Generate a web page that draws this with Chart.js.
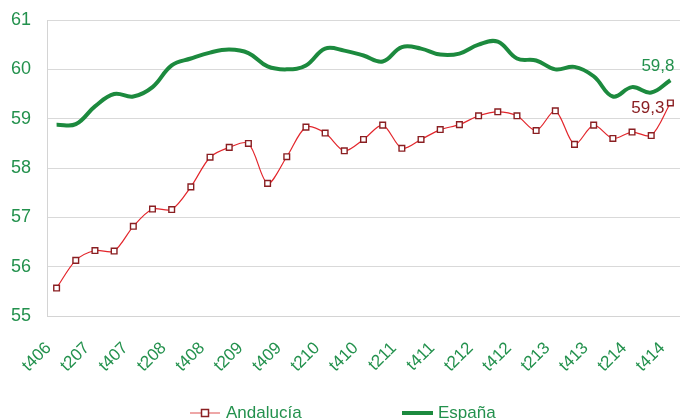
<!DOCTYPE html>
<html>
<head>
<meta charset="utf-8">
<script src="https://cdn.jsdelivr.net/npm/chart.js@4.4.1/dist/chart.umd.min.js"></script>
<style>
    body { margin: 0; background: #fff; }
    #wrap { width: 680px; height: 420px; }
</style>
</head>
<body>
<div id="wrap"><canvas id="empleoChart" width="680" height="420"></canvas></div>
<script>
// trimestres t406 ... t414
const quarters = [
    "t406",
    "t107", "t207", "t307", "t407",
    "t108", "t208", "t308", "t408",
    "t109", "t209", "t309", "t409",
    "t110", "t210", "t310", "t410",
    "t111", "t211", "t311", "t411",
    "t112", "t212", "t312", "t412",
    "t113", "t213", "t313", "t413",
    "t114", "t214", "t314", "t414"
];

const andalucia = [
    55.57,
    56.13, 56.33, 56.32, 56.82,
    57.17, 57.16, 57.62, 58.22,
    58.42, 58.50, 57.69, 58.23,
    58.83, 58.71, 58.35, 58.58,
    58.87, 58.40, 58.58, 58.78,
    58.88, 59.06, 59.14, 59.06,
    58.76, 59.16, 58.48, 58.87,
    58.60, 58.73, 58.66, 59.32
];

const espana = [
    58.88,
    58.89, 59.25, 59.50, 59.45,
    59.64, 60.08, 60.22, 60.34,
    60.40, 60.33, 60.06, 60.00,
    60.08, 60.42, 60.38, 60.28,
    60.16, 60.45, 60.42, 60.30,
    60.32, 60.50, 60.56, 60.22,
    60.18, 60.00, 60.05, 59.86,
    59.45, 59.64, 59.53, 59.78
];

const yTicks = [55, 56, 57, 58, 59, 60, 61];
const endLabels = ["59,3", "59,8"];

const GREEN_TXT = '#23914d';
const FONT = "'Liberation Sans', Arial, sans-serif";

// last value labels
const endLabelPlugin = {
    id: 'endLabels',
    afterDatasetsDraw(chart) {
        const ctx = chart.ctx;
        ctx.save();
        ctx.font = '17px ' + FONT;
        ctx.textBaseline = 'middle';

        const a = chart.getDatasetMeta(0).data;
        const pa = a[a.length - 1];
        ctx.fillStyle = '#8a1f22';
        ctx.textAlign = 'right';
        ctx.fillText(endLabels[0], pa.x - 6, pa.y + 5);

        const e = chart.getDatasetMeta(1).data;
        const pe = e[e.length - 1];
        ctx.fillStyle = GREEN_TXT;
        ctx.textAlign = 'left';
        ctx.fillText(endLabels[1], pe.x - 29, pe.y - 14);
        ctx.restore();
    }
};

// legend at the bottom, Excel style
const legendPlugin = {
    id: 'bottomLegend',
    afterDraw(chart) {
        const ctx = chart.ctx;
        const y = 413;
        ctx.save();
        ctx.font = '17px ' + FONT;
        ctx.textBaseline = 'middle';
        ctx.textAlign = 'left';

        // Andalucía
        ctx.strokeStyle = '#e88a8a';
        ctx.lineWidth = 1.5;
        ctx.beginPath();
        ctx.moveTo(190, y);
        ctx.lineTo(220, y);
        ctx.stroke();
        ctx.fillStyle = '#fff';
        ctx.fillRect(201.5, y - 3.5, 7, 7);
        ctx.strokeStyle = '#8a1f22';
        ctx.strokeRect(201.5, y - 3.5, 7, 7);
        ctx.fillStyle = GREEN_TXT;
        ctx.fillText(chart.data.datasets[0].label, 226, y);

        // España
        ctx.strokeStyle = '#1c8a3e';
        ctx.lineWidth = 4;
        ctx.beginPath();
        ctx.moveTo(402, y);
        ctx.lineTo(433, y);
        ctx.stroke();
        ctx.fillText(chart.data.datasets[1].label, 438, y);
        ctx.restore();
    }
};

document.addEventListener('DOMContentLoaded', function() {
    const ctx = document.getElementById('empleoChart').getContext('2d');

    new Chart(ctx, {
        type: 'line',
        data: {
            labels: quarters,
            datasets: [{
                label: 'Andalucía',
                data: andalucia,
                borderColor: '#e3262c',
                borderWidth: 1.2,
                tension: 0.3,
                pointStyle: 'rect',
                pointRadius: 4,
                pointBorderWidth: 1.4,
                pointBorderColor: '#8a1f22',
                pointBackgroundColor: '#ffffff',
                order: 0
            }, {
                label: 'España',
                data: espana,
                borderColor: '#1c8a3e',
                borderWidth: 4,
                tension: 0.4,
                pointRadius: 0,
                order: 1
            }]
        },
        options: {
            responsive: false,
            animation: false,
            layout: {
                autoPadding: false,
                padding: { left: 11, top: 20, right: 0, bottom: 30 }
            },
            plugins: {
                legend: { display: false },
                tooltip: { enabled: false }
            },
            scales: {
                x: {
                    offset: true,
                    grid: { display: false },
                    border: { color: '#d4d4d4' },
                    afterFit: function(axis) {
                        // no extra side room for the rotated labels
                        axis.paddingLeft = 0;
                        axis.paddingRight = 0;
                    },
                    ticks: {
                        autoSkip: false,
                        maxRotation: 45,
                        minRotation: 45,
                        padding: 14,
                        labelOffset: -8,
                        color: GREEN_TXT,
                        font: { family: FONT, size: 17 },
                        callback: function(val, i) {
                            return i % 2 === 0 ? quarters[i] : '';
                        }
                    }
                },
                y: {
                    min: yTicks[0],
                    max: yTicks[yTicks.length - 1],
                    grid: { color: '#d9d9d9', drawTicks: false },
                    border: { color: '#d4d4d4' },
                    afterBuildTicks: function(axis) {
                        axis.ticks = yTicks.map(v => ({ value: v }));
                    },
                    afterFit: function(axis) {
                        axis.width = 36;
                        axis.paddingTop = 0;
                        axis.paddingBottom = 0;
                    },
                    ticks: {
                        padding: 16,
                        color: GREEN_TXT,
                        font: { family: FONT, size: 18 }
                    }
                }
            }
        },
        plugins: [endLabelPlugin, legendPlugin]
    });
});
</script>
</body>
</html>
